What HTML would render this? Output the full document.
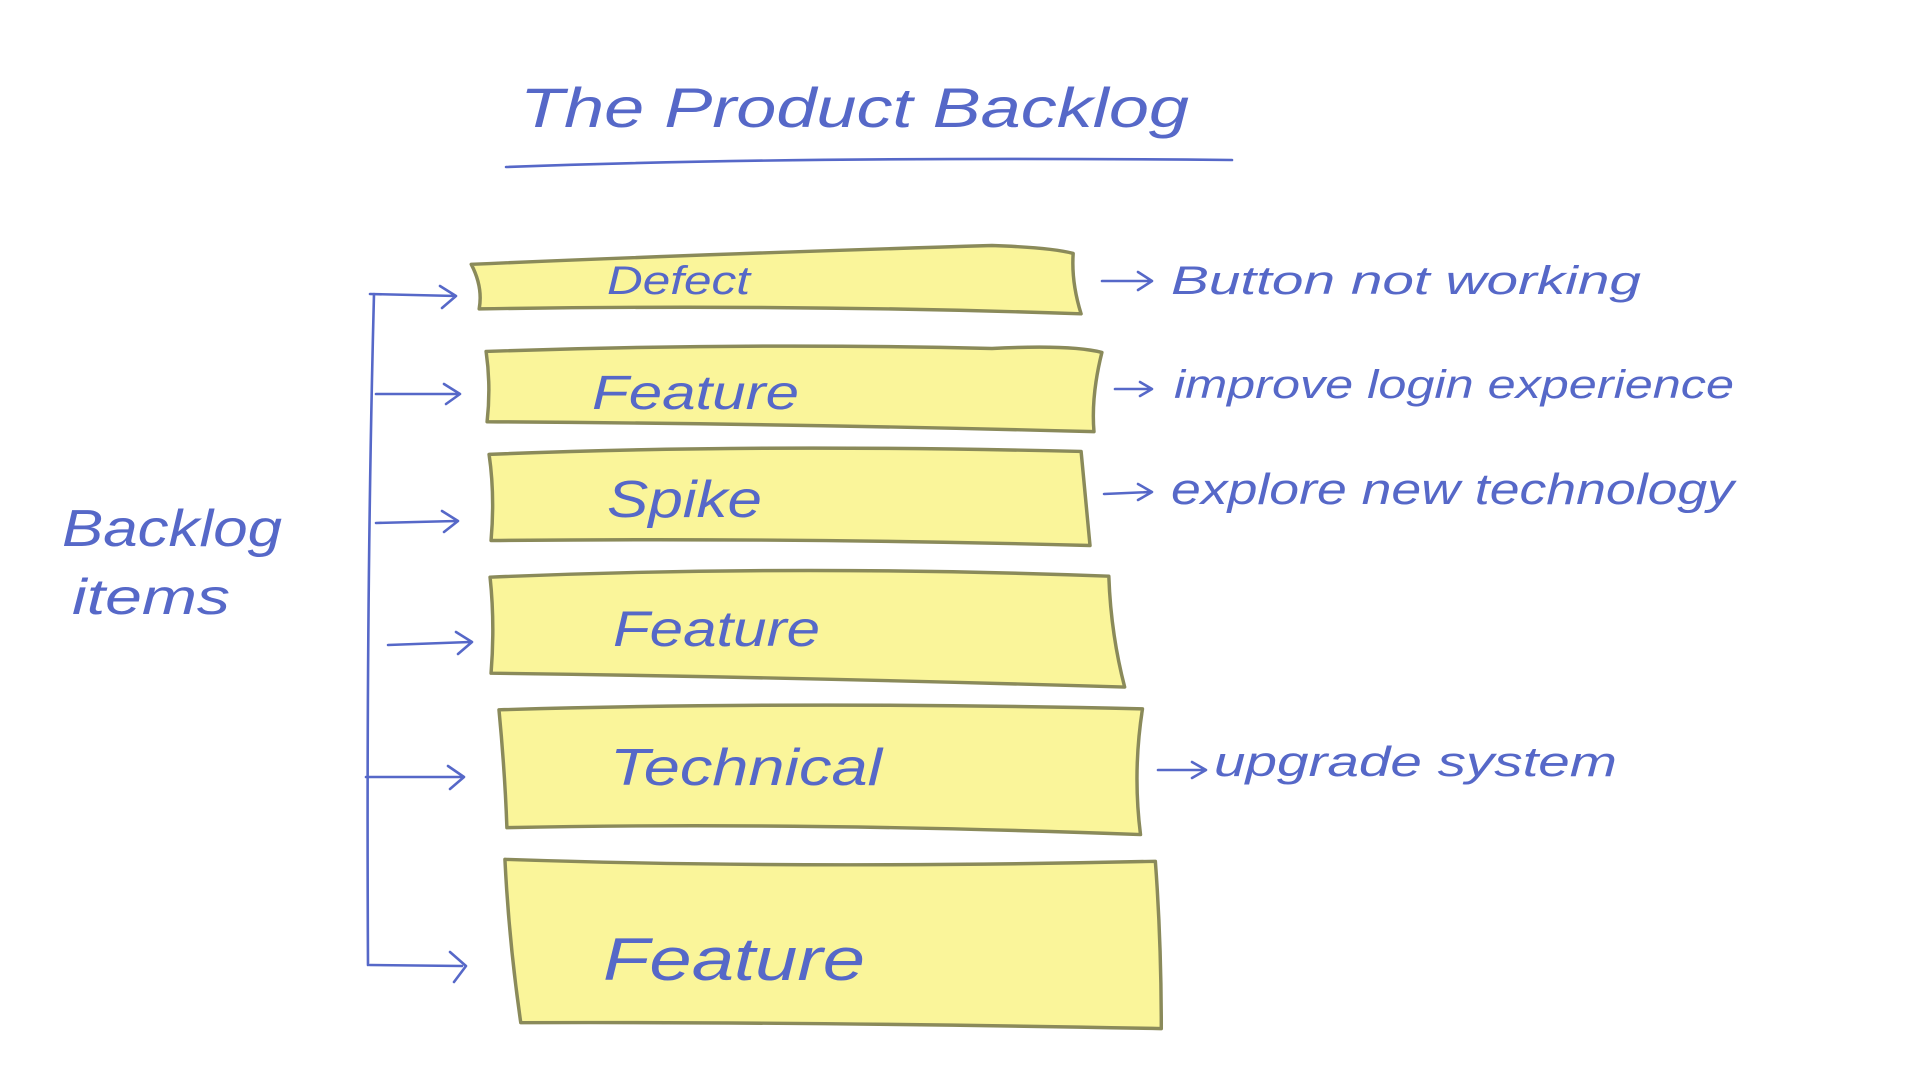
<!DOCTYPE html>
<html><head><meta charset="utf-8"><style>
html,body{margin:0;padding:0;background:#fff;width:1920px;height:1080px;overflow:hidden}
svg{display:block}
text{font-family:"Liberation Sans",sans-serif;fill:#5668c8;font-style:italic}
</style></head><body>
<svg width="1920" height="1080" viewBox="0 0 1920 1080">
<g fill="#faf59a" stroke="#8a8a5a" stroke-width="3.5" stroke-linejoin="round" transform="translate(2,0) scale(0.99)">
<path d="M474,267 Q700,257 1000,248 Q1060,250 1082,256 Q1080,285 1090,317 Q800,307 482,312 Q486,290 474,267Z"/>
<path d="M489,355 Q750,346 1000,352 Q1080,348 1111,356 Q1100,400 1103,436 Q800,428 490,426 Q494,390 489,355Z"/>
<path d="M492,459 Q750,448 1090,456 Q1094,500 1099,551 Q800,543 494,546 Q498,500 492,459Z"/>
<path d="M493,583 Q800,570 1118,582 Q1120,640 1134,694 Q800,684 494,680 Q498,630 493,583Z"/>
<path d="M502,717 Q800,708 1152,716 Q1142,780 1150,843 Q800,830 510,836 Q508,780 502,717Z"/>
<path d="M508,868 Q800,878 1165,870 Q1171,950 1171,1039 Q800,1032 524,1033 Q512,950 508,868Z"/>
</g>
<g fill="none" stroke="#5668c8" stroke-width="2.6" stroke-linecap="round" stroke-linejoin="round">
<path d="M506,167 Q800,156 1232,160"/>
<path d="M374,294 Q366,600 368,965"/>
<path d="M370,294 L456,296 M440,286 L456,296 L442,308"/>
<path d="M376,394 L458,394 M444,384 L460,394 L446,404"/>
<path d="M376,523 L456,521 M442,511 L458,521 L444,532"/>
<path d="M388,645 L470,642 M456,632 L472,642 L458,654"/>
<path d="M366,777 L462,777 M448,766 L464,777 L450,789"/>
<path d="M370,965 L462,966 M450,952 L466,966 L454,982"/>
<path d="M1102,281 L1150,281 M1138,272 L1152,281 L1138,290"/>
<path d="M1115,389 L1150,389 M1140,382 L1152,389 L1140,396"/>
<path d="M1104,494 L1150,492 M1138,484 L1152,492 L1138,500"/>
<path d="M1158,770 L1204,770 M1192,762 L1206,770 L1192,778"/>
</g>
<text x="520" y="127" font-size="56" textLength="669" lengthAdjust="spacingAndGlyphs">The Product Backlog</text>
<text x="607" y="294" font-size="40" textLength="143" lengthAdjust="spacingAndGlyphs">Defect</text>
<text x="592" y="409" font-size="48" textLength="207" lengthAdjust="spacingAndGlyphs">Feature</text>
<text x="607" y="517" font-size="52" textLength="155" lengthAdjust="spacingAndGlyphs">Spike</text>
<text x="613" y="646" font-size="50" textLength="207" lengthAdjust="spacingAndGlyphs">Feature</text>
<text x="610" y="785" font-size="52" textLength="272" lengthAdjust="spacingAndGlyphs">Technical</text>
<text x="603" y="980" font-size="60" textLength="262" lengthAdjust="spacingAndGlyphs">Feature</text>
<text x="62" y="546" font-size="52" textLength="220" lengthAdjust="spacingAndGlyphs">Backlog</text>
<text x="72" y="614" font-size="50" textLength="158" lengthAdjust="spacingAndGlyphs">items</text>
<text x="1171" y="294" font-size="40" textLength="470" lengthAdjust="spacingAndGlyphs">Button not working</text>
<text x="1174" y="398" font-size="40" textLength="560" lengthAdjust="spacingAndGlyphs">improve login experience</text>
<text x="1171" y="504" font-size="44" textLength="563" lengthAdjust="spacingAndGlyphs">explore new technology</text>
<text x="1214" y="776" font-size="42" textLength="403" lengthAdjust="spacingAndGlyphs">upgrade system</text>
</svg>
</body></html>
